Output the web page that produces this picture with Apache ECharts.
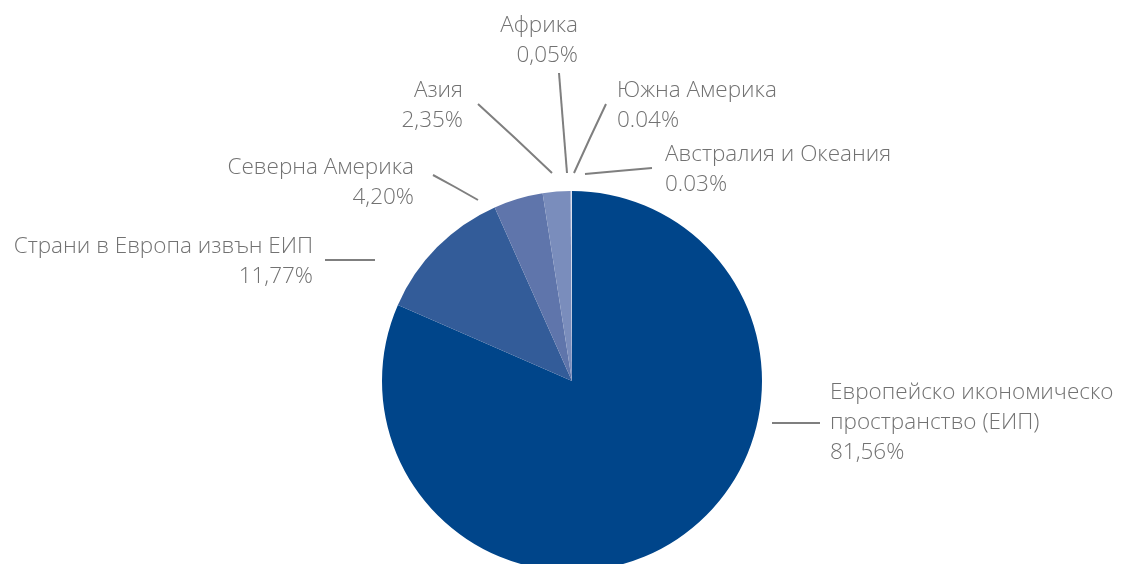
<!DOCTYPE html>
<html>
<head>
<meta charset="utf-8">
<style>
  html, body { margin: 0; padding: 0; background: #fff; }
  #chart { width: 1122px; height: 564px; }
</style>
<script src="https://cdn.jsdelivr.net/npm/echarts@6/dist/echarts.min.js"></script>
</head>
<body>
<div id="chart"></div>
<script>
// данни
var regions = ['Европейско икономическо\nпространство (ЕИП)', 'Страни в Европа извън ЕИП', 'Северна Америка', 'Азия', 'Африка', 'Южна Америка', 'Австралия и Океания'];
var shares = [81.56, 11.77, 4.20, 2.35, 0.05, 0.04, 0.03];
var shareLabels = ['81,56%', '11,77%', '4,20%', '2,35%', '0,05%', '0.04%', '0.03%'];
var colors = ['#00458a', '#335c99', '#5f75ab', '#7a8dbc', '#a3afd3', '#c6cde4', '#e2e6f1'];

// разположение на етикетите (x, y, подравняване, линия)
var labelPos = [
  { x: 830, y: 423, align: 'left',  line: [[772, 423], [796, 423], [820, 423]] },
  { x: 313, y: 262, align: 'right', line: [[375, 260], [350, 260], [325, 260]] },
  { x: 414, y: 183, align: 'right', line: [[478, 200], [455, 187], [433, 175]] },
  { x: 463, y: 106, align: 'right', line: [[552, 173], [515, 138], [478, 104]] },
  { x: 578, y: 41,  align: 'right', line: [[567, 173], [563, 123], [559, 73]] },
  { x: 617, y: 106, align: 'left',  line: [[574, 173], [590, 138], [606, 104]] },
  { x: 665, y: 170, align: 'left',  line: [[585, 174], [618, 171], [652, 168]] }
];

var myChart = echarts.init(document.getElementById('chart'));
var option = {
  animation: false,
  color: colors,
  series: [{
    type: 'pie',
    center: [572, 381],
    radius: 190,
    startAngle: 90,
    clockwise: true,
    avoidLabelOverlap: false,
    itemStyle: { borderWidth: 0 },
    label: {
      show: true,
      color: '#727272',
      fontFamily: 'Open Sans',
      fontWeight: 300,
      fontSize: 22.5,
      lineHeight: 30,
      formatter: function (p) {
        return regions[p.dataIndex] + '\n' + shareLabels[p.dataIndex];
      }
    },
    labelLine: {
      show: true,
      lineStyle: { color: '#7f7f7f', width: 2 }
    },
    labelLayout: function (params) {
      var p = labelPos[params.dataIndex];
      return {
        x: p.x,
        y: p.y,
        align: p.align,
        verticalAlign: 'middle',
        labelLinePoints: p.line
      };
    },
    emphasis: { disabled: true },
    data: shares.map(function (v, i) {
      return { name: regions[i], value: v };
    })
  }]
};
myChart.setOption(option);
window.onresize = function () {
  myChart.resize();
};
</script>
</body>
</html>
